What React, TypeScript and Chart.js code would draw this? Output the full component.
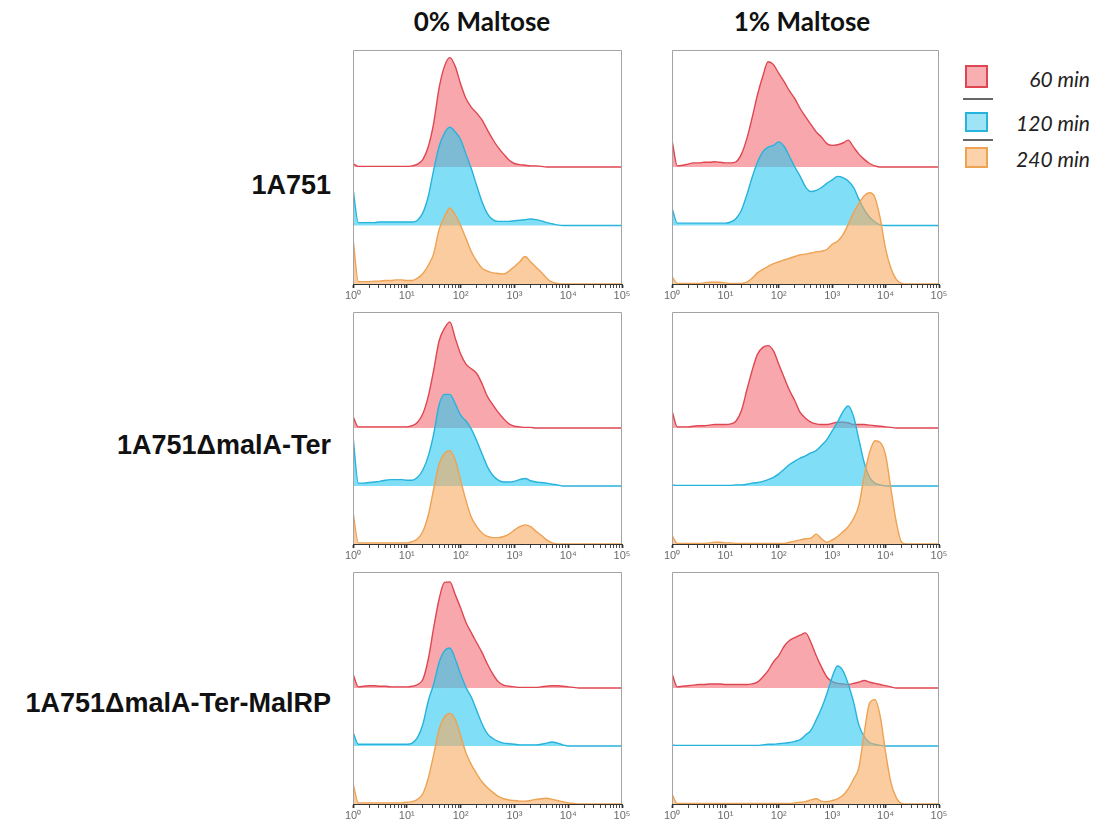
import React, { useEffect, useRef } from 'react';
import { Chart, registerables } from 'chart.js';

Chart.register(...registerables);
Chart.defaults.font.family = "'Liberation Sans', Arial, sans-serif";

// ---------- data ----------
// log10 fluorescence positions of the histogram bins
const LOG_X = [
  0, 0.1, 0.2, 0.3, 0.4, 0.5, 0.6, 0.7, 0.8, 0.9,
  1, 1.1, 1.2, 1.3, 1.4, 1.5, 1.6, 1.7, 1.8, 1.9,
  2, 2.1, 2.2, 2.3, 2.4, 2.5, 2.6, 2.7, 2.8, 2.9,
  3, 3.1, 3.2, 3.3, 3.4, 3.5, 3.6, 3.7, 3.8, 3.9,
  4, 4.1, 4.2, 4.3, 4.4, 4.5, 4.6, 4.7, 4.8, 4.9,
  5,
];
const X_VALUES = LOG_X.map((e) => Math.pow(10, e));

const TICK_EXPONENTS = [0, 1, 2, 3, 4, 5];
const TICK_LABELS = ['10⁰', '10¹', '10²', '10³', '10⁴', '10⁵'];
const MINOR_MULTIPLIERS = [2, 3, 4, 5, 6, 7, 8, 9];

const CONDITIONS = ['0% Maltose', '1% Maltose'];
const STRAINS = ['1A751', '1A751ΔmalA-Ter', '1A751ΔmalA-Ter-MalRP'];
const SERIES_NAMES = ['60 min', '120 min', '240 min'];
// lane offsets (percent of one lane) for 60 / 120 / 240 min
const LANE_BASE = [200, 100, 0];

// heights (percent of one lane) — row 1A751, 0% maltose
const RED_P1 = [6,1,1,1,1,1,1,1,1,1, 1,2,5,13,35,75,135,172,187,172, 142,117,102,92,80,63,47,33,22,12, 6,4,3,2,2,1,0,0,0,0, 0,0,0,0,0,0,0,0,0,0, 0];
const BLUE_P1 = [63,5,5,5,5,6,6,6,6,6, 6,6,9,22,50,95,135,158,168,160, 147,122,97,68,40,20,10,7,7,7, 8,9,10,11,10,8,5,3,1,0, 0,0,0,0,0,0,0,0,0,0, 0];
const ORANGE_P1 = [79,4,4,4,5,5,6,6,7,7, 6,6,10,18,32,52,93,115,130,118, 100,78,55,39,27,22,19,18,17,22, 30,38,47,38,29,20,10,3,1,0, 0,0,0,0,0,0,0,0,0,0, 0];
// row 1A751, 1% maltose
const RED_P2 = [46,2,3,5,7,7,8,8,9,8, 7,7,9,22,48,84,123,155,180,175, 160,146,130,117,100,86,73,60,51,40, 37,38,41,46,34,22,13,6,2,0, 0,0,0,0,0,0,0,0,0,0, 0];
const BLUE_P2 = [30,4,4,4,4,4,4,4,4,4, 4,6,12,26,52,82,108,126,134,137, 143,135,118,100,84,66,58,60,65,72, 78,84,82,76,65,45,27,14,6,1, 0,0,0,0,0,0,0,0,0,0, 0];
const ORANGE_P2 = [13,1,1,1,1,1,2,3,3,3, 2,1,1,1,3,10,19,25,30,35, 38,41,44,47,50,51,53,55,56,59, 68,73,84,102,122,138,151,156,148,112, 60,27,8,1,0,0,0,0,0,0, 0];
// row 1A751ΔmalA-Ter, 0% maltose
const RED_P3 = [20,2,2,2,2,2,2,2,2,2, 2,4,10,25,55,100,150,172,183,155, 128,110,102,94,76,54,40,27,16,7, 3,2,1,1,0,0,0,0,0,0, 0,0,0,0,0,0,0,0,0,0, 0];
const BLUE_P3 = [85,5,5,6,7,8,10,11,11,11, 10,10,15,28,52,90,140,158,158,142, 122,112,98,78,55,33,18,10,7,7, 8,11,13,9,7,6,5,3,2,0, 0,0,0,0,0,0,0,0,0,0, 0];
const ORANGE_P3 = [56,2,2,2,2,2,2,2,2,2, 2,4,9,22,50,95,138,156,161,145, 110,75,46,30,19,13,11,11,13,17, 24,30,33,30,22,15,7,2,0,0, 0,0,0,0,0,0,0,0,0,0, 0];
// row 1A751ΔmalA-Ter, 1% maltose
const RED_P4 = [30,2,2,2,3,4,4,5,6,6, 6,7,12,30,65,99,127,139,142,133, 110,87,65,47,27,17,10,7,6,6, 8,10,10,9,6,6,6,5,4,3, 2,1,0,0,0,0,0,0,0,0, 0];
const BLUE_P4 = [2,1,1,1,1,1,1,1,1,1, 1,1,2,2,3,5,6,8,11,15, 21,29,37,43,48,52,57,61,70,80, 95,110,128,138,120,80,40,15,5,2, 0,0,0,0,0,0,0,0,0,0, 0];
const ORANGE_P4 = [15,1,1,1,1,1,1,2,3,3, 2,2,1,1,1,1,1,1,1,1, 1,1,3,5,7,9,10,17,9,3, 7,13,21,30,44,67,118,158,178,175, 153,95,38,3,0,0,0,0,0,0, 0];
// row 1A751ΔmalA-Ter-MalRP, 0% maltose
const RED_P5 = [24,2,3,4,4,3,3,2,2,2, 2,3,6,15,50,104,153,182,183,161, 138,113,95,78,61,41,24,11,5,3, 2,1,1,1,1,2,3,4,4,3, 2,1,0,0,0,0,0,0,0,0, 0];
const BLUE_P5 = [24,3,3,3,3,3,3,3,3,3, 3,5,15,38,78,107,144,164,169,150, 124,101,84,61,38,21,13,8,5,4, 3,2,2,2,2,3,5,7,5,2, 0,0,0,0,0,0,0,0,0,0, 0];
const ORANGE_P5 = [36,2,2,2,2,2,2,2,2,2, 3,4,8,18,45,85,128,150,156,146, 118,88,68,52,38,28,20,13,9,7, 6,5,5,6,8,9,10,8,6,4, 2,1,0,0,0,0,0,0,0,0, 0];
// row 1A751ΔmalA-Ter-MalRP, 1% maltose
const RED_P6 = [25,2,3,4,5,6,6,7,7,7, 6,6,6,6,6,7,10,19,30,45, 56,72,82,87,91,95,79,56,36,19, 11,8,7,6,8,10,13,10,8,6, 4,2,0,0,0,0,0,0,0,0, 0];
const BLUE_P6 = [2,1,1,1,1,1,1,1,1,1, 1,1,1,1,1,1,1,2,3,3, 4,5,6,8,11,19,27,45,65,90, 119,138,130,107,76,36,16,6,3,1, 0,0,0,0,0,0,0,0,0,0, 0];
const ORANGE_P6 = [17,1,1,1,1,1,1,1,1,1, 1,1,1,1,1,1,1,1,1,1, 1,1,1,2,3,4,7,9,5,4, 6,9,15,26,43,63,123,174,180,151, 89,37,11,1,0,0,0,0,0,0, 0];

const PANEL_SERIES = [
  [RED_P1, BLUE_P1, ORANGE_P1],
  [RED_P2, BLUE_P2, ORANGE_P2],
  [RED_P3, BLUE_P3, ORANGE_P3],
  [RED_P4, BLUE_P4, ORANGE_P4],
  [RED_P5, BLUE_P5, ORANGE_P5],
  [RED_P6, BLUE_P6, ORANGE_P6],
];

// ---------- styles / layout ----------
const LINE_COLORS = ['#de4752', '#27b3dc', '#eea253'];
const FILL_COLORS = ['rgba(243,110,117,0.6)', 'rgba(43,200,240,0.6)', 'rgba(247,170,97,0.6)'];
const LEGEND_FILLS = ['#f9aeb2', '#9fe3f7', '#fbd2a9'];

const COL_LEFT = [353, 672];
const COL_RIGHT = [622, 939];
const ROW_TOP = [50, 312, 572];
const ROW_BOTTOM = [284, 544, 804];
const PAD_X = 12;
const PAD_TOP = 3;
const AXIS_H = 24;

const framePlugin = {
  id: 'frame',
  afterDraw(chart: any) {
    const { ctx, chartArea } = chart;
    const { left, top, right, bottom } = chartArea;
    ctx.save();
    ctx.strokeStyle = '#a3a3a3';
    ctx.lineWidth = 1;
    ctx.beginPath();
    ctx.moveTo(left + 0.5, bottom);
    ctx.lineTo(left + 0.5, top + 0.5);
    ctx.lineTo(right - 0.5, top + 0.5);
    ctx.lineTo(right - 0.5, bottom);
    ctx.stroke();
    ctx.restore();
  },
};

function Panel({ row, col, series }: { row: number; col: number; series: number[][] }) {
  const ref = useRef<HTMLCanvasElement>(null);
  const areaW = COL_RIGHT[col] - COL_LEFT[col];
  const areaH = ROW_BOTTOM[row] - ROW_TOP[row];
  const width = areaW + PAD_X * 2;
  const height = areaH + PAD_TOP + AXIS_H;
  const left = COL_LEFT[col] - PAD_X;
  const top = ROW_TOP[row] - PAD_TOP;

  useEffect(() => {
    // draw order: index 0 is painted last, so 240 min ends on top
    const order = [2, 1, 0];
    const datasets = order.map((k) => ({
      label: SERIES_NAMES[k],
      data: series[k].map((h, i) => ({ x: X_VALUES[i], y: LANE_BASE[k] + h })),
      borderColor: LINE_COLORS[k],
      backgroundColor: FILL_COLORS[k],
      borderWidth: 1.4,
      pointRadius: 0,
      cubicInterpolationMode: 'monotone' as const,
      fill: { value: LANE_BASE[k] },
    }));
    const chart = new Chart(ref.current as HTMLCanvasElement, {
      type: 'line',
      data: { datasets },
      options: {
        animation: false,
        responsive: false,
        maintainAspectRatio: false,
        layout: { padding: { left: PAD_X, right: PAD_X, top: PAD_TOP, bottom: 0 } },
        plugins: { legend: { display: false }, tooltip: { enabled: false } },
        scales: {
          x: {
            type: 'logarithmic',
            min: 1,
            max: 100000,
            afterBuildTicks: (scale: any) => {
              const ticks: any[] = [];
              TICK_EXPONENTS.forEach((e, i) => {
                ticks.push({ value: Math.pow(10, e), major: true });
                if (i < TICK_EXPONENTS.length - 1) {
                  MINOR_MULTIPLIERS.forEach((m) => ticks.push({ value: m * Math.pow(10, e), major: false }));
                }
              });
              scale.ticks = ticks;
            },
            afterFit: (scale: any) => {
              scale.height = AXIS_H;
            },
            ticks: {
              autoSkip: false,
              maxRotation: 0,
              minRotation: 0,
              padding: 1,
              color: '#6a6a6a',
              font: { size: 11 },
              callback: (value: any, index: number, ticks: any[]) => {
                const t = ticks[index];
                if (!t || !t.major) return '';
                const e = Math.round(Math.log10(Number(t.value)));
                return TICK_LABELS[TICK_EXPONENTS.indexOf(e)];
              },
            },
            grid: {
              display: true,
              drawOnChartArea: false,
              drawTicks: true,
              tickLength: 4,
              tickColor: '#333',
              tickWidth: (ctx: any) => (ctx.tick && ctx.tick.major ? 1.8 : 0.9),
            },
            border: { display: true, color: '#333', width: 1 },
          },
          y: {
            type: 'linear',
            display: false,
            min: 0,
            max: 400,
          },
        },
      },
      plugins: [framePlugin],
    } as any);
    return () => chart.destroy();
  }, []);

  return (
    <canvas
      ref={ref}
      width={width}
      height={height}
      style={{ position: 'absolute', left, top, width, height }}
    />
  );
}

const ROW_LABEL_Y = [185, 445, 703];
const TITLE_X = [482, 802];
const LEGEND_SQ_Y = [65, 112, 147];
const LEGEND_SQ_H = [23, 20, 21];
const LEGEND_TEXT_Y = [78, 122, 158];
const LEGEND_SEP_Y = [98, 139];

export default function App() {
  return (
    <div style={{ position: 'absolute', left: 0, top: 0, width: 1101, height: 826, background: '#fff', overflow: 'hidden' }}>
      {CONDITIONS.map((c, i) => (
        <div
          key={c}
          style={{
            position: 'absolute', left: TITLE_X[i], top: 21, transform: 'translate(-50%, -50%)',
            fontFamily: 'Lato, "Open Sans", sans-serif', fontWeight: 700, fontSize: 26, lineHeight: 1,
            color: '#111', whiteSpace: 'nowrap',
          }}
        >
          {c}
        </div>
      ))}
      {STRAINS.map((s, i) => (
        <div
          key={s}
          style={{
            position: 'absolute', right: 1101 - 331, top: ROW_LABEL_Y[i], transform: 'translateY(-50%)',
            fontFamily: '"Liberation Sans", Arial, sans-serif', fontWeight: 700, fontSize: 27, lineHeight: 1,
            color: '#111', whiteSpace: 'nowrap',
          }}
        >
          {s}
        </div>
      ))}
      {PANEL_SERIES.map((series, p) => (
        <Panel key={p} row={Math.floor(p / 2)} col={p % 2} series={series} />
      ))}
      {SERIES_NAMES.map((n, k) => (
        <React.Fragment key={n}>
          <div
            style={{
              position: 'absolute', left: 965, top: LEGEND_SQ_Y[k], width: 23, height: LEGEND_SQ_H[k],
              boxSizing: 'border-box', border: `2px solid ${LINE_COLORS[k]}`, background: LEGEND_FILLS[k],
            }}
          />
          <div
            style={{
              position: 'absolute', right: 1101 - 1090, top: LEGEND_TEXT_Y[k], transform: 'translateY(-50%)',
              fontFamily: 'Lato, "Open Sans", sans-serif', fontStyle: 'italic', fontSize: 21, lineHeight: 1,
              color: '#222', whiteSpace: 'nowrap',
            }}
          >
            {n}
          </div>
        </React.Fragment>
      ))}
      {LEGEND_SEP_Y.map((y) => (
        <div key={y} style={{ position: 'absolute', left: 963, top: y, width: 30, height: 2, background: '#666' }} />
      ))}
    </div>
  );
}
